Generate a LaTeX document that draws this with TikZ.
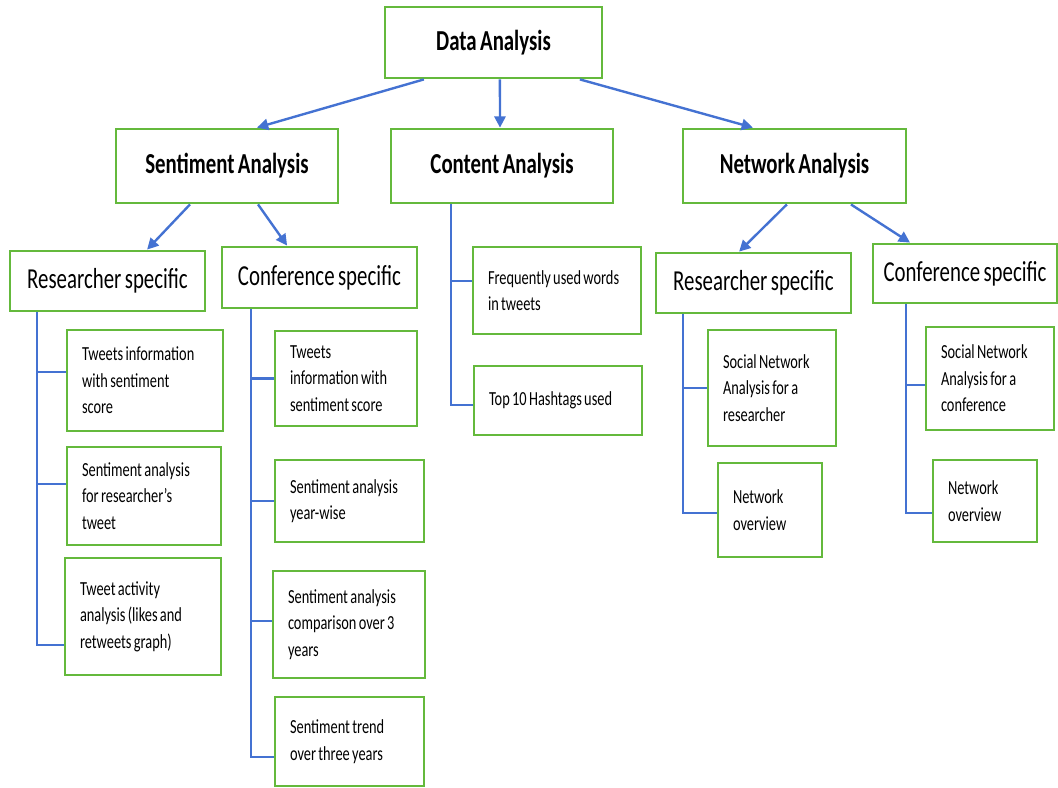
\documentclass[tikz,border=0pt]{standalone}
\usepackage{fontspec}
\setmainfont{Carlito}[FakeStretch=0.72, WordSpace=0.72]
\usetikzlibrary{arrows.meta}
\definecolor{boxgreen}{RGB}{100,185,60}
\definecolor{linkblue}{RGB}{68,114,210}

\begin{document}
\begin{tikzpicture}[
      head/.style={rectangle, draw=boxgreen, line width=2pt, align=center,
                   inner sep=2pt, font=\fontsize{20.6}{24}\selectfont\bfseries},
      sub/.style={rectangle, draw=boxgreen, line width=2pt, align=center,
                  inner sep=2pt, font=\fontsize{20.6}{24}\selectfont},
      leaf/.style={rectangle, draw=boxgreen, line width=2pt, align=flush left,
                   inner xsep=0.375cm, inner ysep=2pt,
                   font=\fontsize{14.2}{18.8}\selectfont},
      arr/.style={-{Triangle[length=8pt,width=8pt]}, line width=1.7pt, linkblue},
      link/.style={line width=1.7pt, linkblue}
    ]
    \useasboundingbox (0,0) rectangle (26.45,-19.675);

    % top levels
    \node[head, minimum width=5.425cm, minimum height=1.775cm] (data) at (12.3375,-1.0625) {Data Analysis};
    \node[head, minimum width=5.55cm, minimum height=1.85cm] (senti) at (5.675,-4.15) {Sentiment Analysis};
    \node[head, minimum width=5.55cm, minimum height=1.85cm] (content) at (12.55,-4.15) {Content Analysis};
    \node[head, minimum width=5.575cm, minimum height=1.85cm] (network) at (19.8625,-4.15) {Network Analysis};

    \node[sub, minimum width=4.875cm, minimum height=1.5cm] (sres) at (2.6875,-7.025) {Researcher specific};
    \node[sub, minimum width=4.875cm, minimum height=1.525cm] (sconf) at (7.9875,-6.9375) {Conference specific};
    \node[sub, minimum width=4.875cm, minimum height=1.5cm] (nres) at (18.8375,-7.075) {Researcher specific};
    \node[sub, minimum width=4.6cm, minimum height=1.475cm] (nconf) at (24.125,-6.8375) {Conference specific};

    % leaves
    \node[leaf, text width=3.15cm, minimum height=2.525cm] (sres1) at (3.625,-9.5125) {Tweets information\\with sentiment\\score};
    \node[leaf, text width=3.1cm, minimum height=2.45cm] (sres2) at (3.6,-12.4) {Sentiment analysis\\for researcher's\\tweet};
    \node[leaf, text width=3.15cm, minimum height=2.925cm] (sres3) at (3.575,-15.4125) {Tweet activity\\analysis (likes and\\retweets graph)};

    \node[leaf, text width=2.8cm, minimum height=2.375cm] (sconf1) at (8.65,-9.4625) {Tweets\\information with\\sentiment score};
    \node[leaf, text width=2.975cm, minimum height=2.05cm] (sconf2) at (8.7375,-12.525) {Sentiment analysis\\year-wise};
    \node[leaf, text width=3.05cm, minimum height=2.675cm] (sconf3) at (8.725,-15.6125) {Sentiment analysis\\comparison over 3\\years};
    \node[leaf, text width=2.975cm, minimum height=2.225cm] (sconf4) at (8.7375,-18.5375) {Sentiment trend\\over three years};

    \node[leaf, text width=3.45cm, minimum height=2.175cm] (cont1) at (13.925,-7.2625) {Frequently used words\\in tweets};
    \node[leaf, text width=3.45cm, minimum height=1.725cm] (cont2) at (13.95,-10.0125) {Top 10 Hashtags used};

    \node[leaf, text width=2.45cm, minimum height=2.9cm] (nres1) at (19.3,-9.7) {Social Network\\Analysis for a\\researcher};
    \node[leaf, text width=1.85cm, minimum height=2.35cm] (nres2) at (19.25,-12.75) {Network\\overview};

    \node[leaf, text width=2.45cm, minimum height=2.575cm] (nconf1) at (24.75,-9.4625) {Social Network\\Analysis for a\\conference};
    \node[leaf, text width=1.85cm, minimum height=2.05cm] (nconf2) at (24.625,-12.525) {Network\\overview};

    % arrows
    \draw[arr] ([xshift=-1.74cm]data.south) -- ([xshift=0.75cm]senti.north);
    \draw[arr] ([xshift=0.16cm]data.south) -- ([xshift=-0.05cm]content.north);
    \draw[arr] ([xshift=2.16cm]data.south) -- ([xshift=-1.04cm]network.north);
    \draw[arr] ([xshift=-0.925cm]senti.south) -- ([xshift=0.99cm]sres.north);
    \draw[arr] ([xshift=0.775cm]senti.south) -- ([xshift=-0.81cm]sconf.north);
    \draw[arr] ([xshift=-0.19cm]network.south) -- ([xshift=-0.36cm]nres.north);
    \draw[arr] ([xshift=1.41cm]network.south) -- ([xshift=-1.375cm]nconf.north);

    % tree lines
    \draw[link] ([xshift=-1.76cm]sres.south) |- ([yshift=0.21cm]sres1.west);
    \draw[link] ([xshift=-1.76cm]sres.south) |- ([yshift=0.3cm]sres2.west);
    \draw[link] ([xshift=-1.76cm]sres.south) |- ([yshift=-0.71cm]sres3.west);

    \draw[link] ([xshift=-1.71cm]sconf.south) |- (sconf1.west);
    \draw[link] ([xshift=-1.71cm]sconf.south) |- (sconf2.west);
    \draw[link] ([xshift=-1.71cm]sconf.south) |- ([yshift=0.09cm]sconf3.west);
    \draw[link] ([xshift=-1.71cm]sconf.south) |- ([yshift=-0.39cm]sconf4.west);

    \draw[link] ([xshift=-1.275cm]content.south) |- ([yshift=0.24cm]cont1.west);
    \draw[link] ([xshift=-1.275cm]content.south) |- ([yshift=-0.11cm]cont2.west);

    \draw[link] ([xshift=-1.76cm]nres.south) |- (nres1.west);
    \draw[link] ([xshift=-1.76cm]nres.south) |- ([yshift=-0.075cm]nres2.west);

    \draw[link] ([xshift=-1.475cm]nconf.south) |- ([yshift=-0.16cm]nconf1.west);
    \draw[link] ([xshift=-1.475cm]nconf.south) |- ([yshift=-0.3cm]nconf2.west);
  \end{tikzpicture}
\end{document}
